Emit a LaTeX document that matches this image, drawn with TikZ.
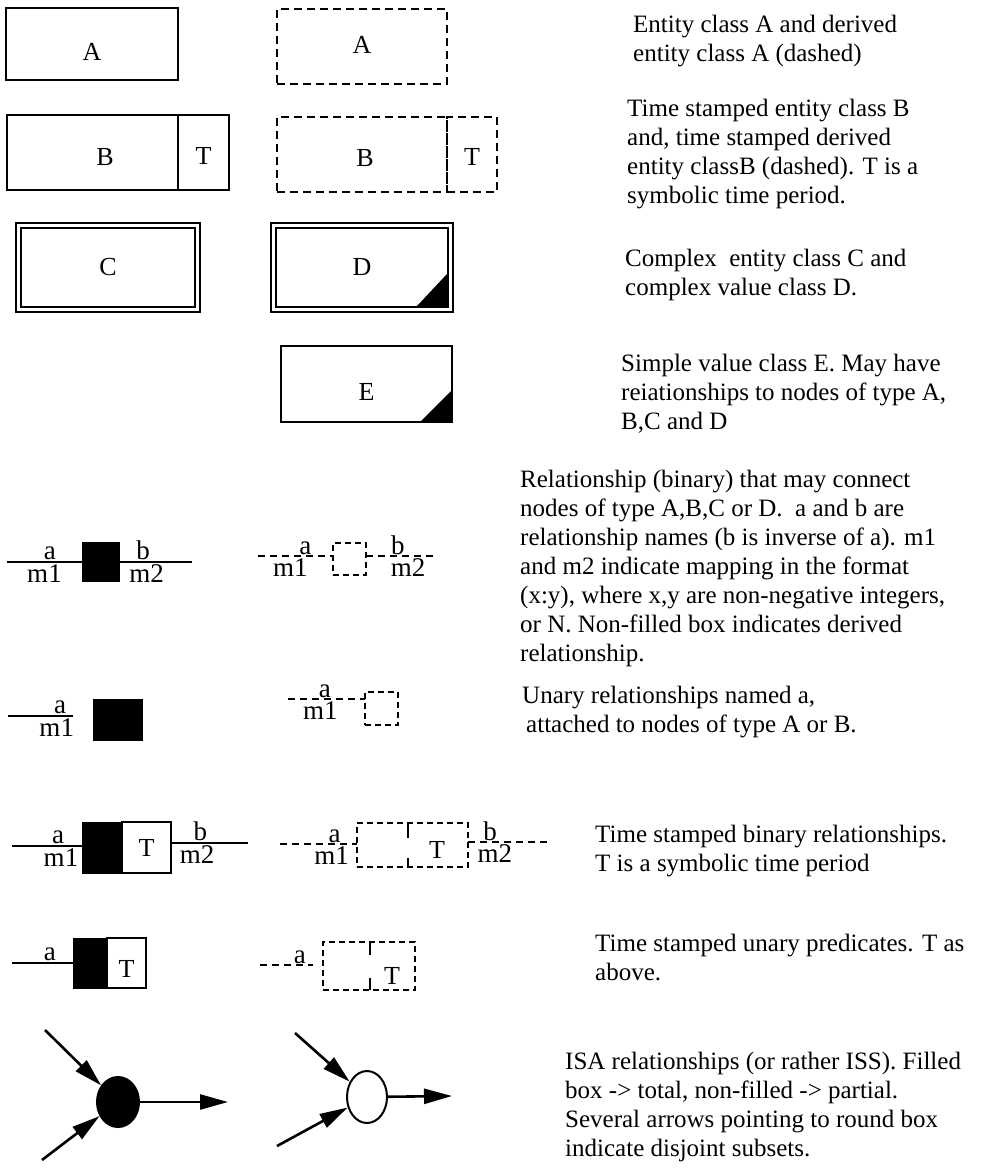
\documentclass[tikz,border=0pt]{standalone}
\usepackage{fontspec}
\setmainfont{Liberation Serif}
\usetikzlibrary{arrows.meta, positioning, shapes.geometric, calc}

\newcommand{\lowered}[2]{\raisebox{#1}[\height][\depth]{#2}}

\begin{document}
\begin{tikzpicture}[
    x=1pt, y=-1pt,
    font=\fontsize{25}{29}\selectfont,
    ent/.style={rectangle, draw, line width=1.8pt, inner sep=0pt, outer sep=0pt, font=\fontsize{26}{29}\selectfont},
    dent/.style={ent, dash pattern=on 8pt off 5pt},
    cplx/.style={ent, double, double distance=3.4pt},
    relbox/.style={rectangle, draw, fill=black, line width=1pt, inner sep=0pt, outer sep=0pt},
    drel/.style={rectangle, draw, line width=1.5pt, dash pattern=on 6pt off 4pt, inner sep=0pt, outer sep=0pt},
    link/.style={line width=1.7pt},
    dlink/.style={line width=1.7pt, dash pattern=on 7pt off 5pt},
    lbl/.style={inner sep=1.5pt, font=\fontsize{27}{29}\selectfont},
    note/.style={anchor=north west, align=left, inner sep=0pt},
    isa/.style={ellipse, draw, line width=2pt, inner sep=0pt},
    arrow/.style={-{Triangle[length=28pt, width=15pt]}, line width=2.6pt},
]
\useasboundingbox (0,0) rectangle (994,1173);

% entity and value classes
\node[ent, minimum width=172pt, minimum height=72pt] (a1) at (92,44) {\lowered{-8pt}{A}};
\node[dent, minimum width=170pt, minimum height=75pt] (a2) at (362,46.5) {\lowered{2pt}{A}};

\node[ent, minimum width=171pt, minimum height=75pt] (b1) at (92.5,152.5) {\hspace*{25pt}\lowered{-5pt}{B}};
\node[ent, minimum width=51pt, minimum height=75pt, right=0pt of b1] (t1) {\lowered{-3pt}{T}};
\node[dent, minimum width=170pt, minimum height=75pt] (b2) at (362,154.5) {\hspace*{6pt}\lowered{-4pt}{B}};
\node[dent, minimum width=50pt, minimum height=75pt, right=0pt of b2] (t2) {\lowered{-2pt}{T}};

\node[cplx, minimum width=179pt, minimum height=84pt] (c1) at (108,267.5) {C};
\node[cplx, minimum width=177pt, minimum height=84pt] (d1) at (362,267.5) {D};
\fill ([shift={(-3.5,-3.5)}]d1.south east) -- ++(-30,0) -- ++(30,-32) -- cycle;

\node[ent, minimum width=171pt, minimum height=76pt] (e1) at (366.5,384) {\lowered{-8pt}{E}};
\fill ([shift={(-0.9,-0.9)}]e1.south east) -- ++(-30,0) -- ++(30,-30) -- cycle;

% binary relationships
\node[relbox, minimum width=37pt, minimum height=39pt] (r1) at (100.5,561.5) {};
\coordinate (r1in) at (7,562);
\coordinate (r1out) at (192,562);
\draw[link] (r1in) -- node[lbl, above, pos=.57] {a} node[lbl, below, pos=.5] {m1} (r1.west |- r1in);
\draw[link] (r1.east |- r1out) -- node[lbl, above, pos=.33] {b} node[lbl, below, pos=.38] {m2} (r1out);

\node[drel, minimum width=33pt, minimum height=32pt] (r2) at (349.5,559) {};
\coordinate (r2in) at (258,556);
\coordinate (r2out) at (434,556);
\draw[dlink] (r2in) -- node[lbl, above, inner sep=0pt, pos=.63] {a} node[lbl, below, pos=.43] {m1} (r2.west |- r2in);
\draw[dlink] (r2.east |- r2out) -- node[lbl, above, inner sep=0pt, pos=.47] {b} node[lbl, below, pos=.62] {m2} (r2out);

% unary relationships
\node[relbox, minimum width=49pt, minimum height=41pt] (u1) at (117.5,719.5) {};
\coordinate (u1in) at (8,716);
\coordinate (u1end) at (73,716);
\draw[link] (u1in) -- node[lbl, above, pos=.8] {a} node[lbl, below, pos=.75] {m1} (u1end);

\node[drel, minimum width=33pt, minimum height=33pt] (u2) at (381.5,708.5) {};
\coordinate (u2in) at (288,699);
\draw[dlink] (u2in) -- node[lbl, above, inner sep=0pt, pos=.48] {a} node[lbl, below, pos=.42] {m1} (u2.west |- u2in);

% time stamped binary relationships
\node[relbox, minimum width=40pt, minimum height=51pt] (s1) at (102,847.5) {};
\node[ent, minimum width=49pt, minimum height=51pt, right=0pt of s1] (s1t) {T};
\coordinate (s1in) at (12,846);
\coordinate (s1out) at (248,843);
\draw[link] (s1in) -- node[lbl, above, pos=.66] {a} node[lbl, below, pos=.7] {m1} (s1.west |- s1in);
\draw[link] (s1t.east |- s1out) -- node[lbl, above, pos=.38] {b} node[lbl, below, pos=.34] {m2} (s1out);

\node[drel, minimum width=111pt, minimum height=44pt] (s2) at (412.5,845) {};
\node[font=\fontsize{26}{29}\selectfont] (s2t) at (437,850) {T};
\coordinate (s2d) at (408,845);
\draw[line width=1.5pt] (s2.north -| s2d) -- ++(0,15);
\draw[line width=1.5pt] (s2.south -| s2d) -- ++(0,-9);
\coordinate (s2in) at (280,844);
\coordinate (s2out) at (547,842);
\draw[dlink] (s2in) -- node[lbl, above, inner sep=0pt, pos=.71] {a} node[lbl, below, pos=.67] {m1} (s2.west |- s2in);
\draw[dlink] (s2.east |- s2out) -- node[lbl, above, inner sep=0pt, pos=.28] {b} node[lbl, below, pos=.34] {m2} (s2out);

% time stamped unary predicates
\node[relbox, minimum width=34pt, minimum height=50pt] (p1) at (90,963) {};
\node[ent, minimum width=39pt, minimum height=50pt, right=0pt of p1] (p1t) {\lowered{-6pt}{T}};
\coordinate (p1in) at (12,963);
\draw[link] (p1in) -- node[lbl, above, pos=.62] {a} (p1.west);

\node[drel, minimum width=92pt, minimum height=48pt] (p2) at (369,966) {};
\node[font=\fontsize{26}{29}\selectfont] (p2t) at (392,976) {T};
\coordinate (p2d) at (370,966);
\draw[line width=1.5pt] (p2.north -| p2d) -- ++(0,13);
\draw[line width=1.5pt] (p2.south -| p2d) -- ++(0,-12);
\coordinate (p2in) at (260,965);
\coordinate (p2end) at (313,965);
\draw[dlink] (p2in) -- node[lbl, above, inner sep=0pt, pos=.75] {a} (p2end);

% ISA
\node[isa, fill=black, minimum width=42pt, minimum height=50pt] (i1) at (118,1102) {};
\coordinate (i1a) at (45,1030);
\coordinate (i1b) at (42,1160);
\coordinate (i1c) at (228,1102);
\draw[arrow] (i1a) -- (i1);
\draw[arrow] (i1b) -- (i1);
\draw[arrow] (i1) -- (i1c);

\node[isa, minimum width=40pt, minimum height=52pt] (i2) at (367,1097) {};
\coordinate (i2a) at (295,1033);
\coordinate (i2b) at (277,1146);
\coordinate (i2c) at (452,1096);
\draw[arrow] (i2a) -- (i2);
\draw[arrow] (i2b) -- (i2);
\draw[arrow] (i2) -- (i2c);

% explanations
\node[note] (n1) at (633,15) {Entity class A and derived\\entity class A (dashed)};
\node[note] (n2) at (627,99) {Time stamped entity class B\\and, time stamped derived\\entity classB (dashed). T is a\\symbolic time period.};
\node[note] (n3) at (625,249) {Complex\ \ entity class C and\\complex value class D.};
\node[note] (n4) at (621,354) {Simple value class E. May have\\reiationships to nodes of type A,\\B,C and D};
\node[note] (n5) at (520,470) {Relationship (binary) that may connect\\nodes of type A,B,C or D.\ \ a and b are\\relationship names (b is inverse of a). m1\\and m2 indicate mapping in the format\\(x:y), where x,y are non-negative integers,\\or N. Non-filled box indicates derived\\relationship.};
\node[note] (n6) at (522,686) {Unary relationships named a,\\\hspace{4pt}attached to nodes of type A or B.};
\node[note] (n7) at (595,825) {Time stamped binary relationships.\\T is a symbolic time period};
\node[note] (n8) at (595,934) {Time stamped unary predicates. T as\\above.};
\node[note] (n9) at (565,1052) {ISA relationships (or rather ISS). Filled\\box -> total, non-filled -> partial.\\Several arrows pointing to round box\\indicate disjoint subsets.};

\end{tikzpicture}
\end{document}
